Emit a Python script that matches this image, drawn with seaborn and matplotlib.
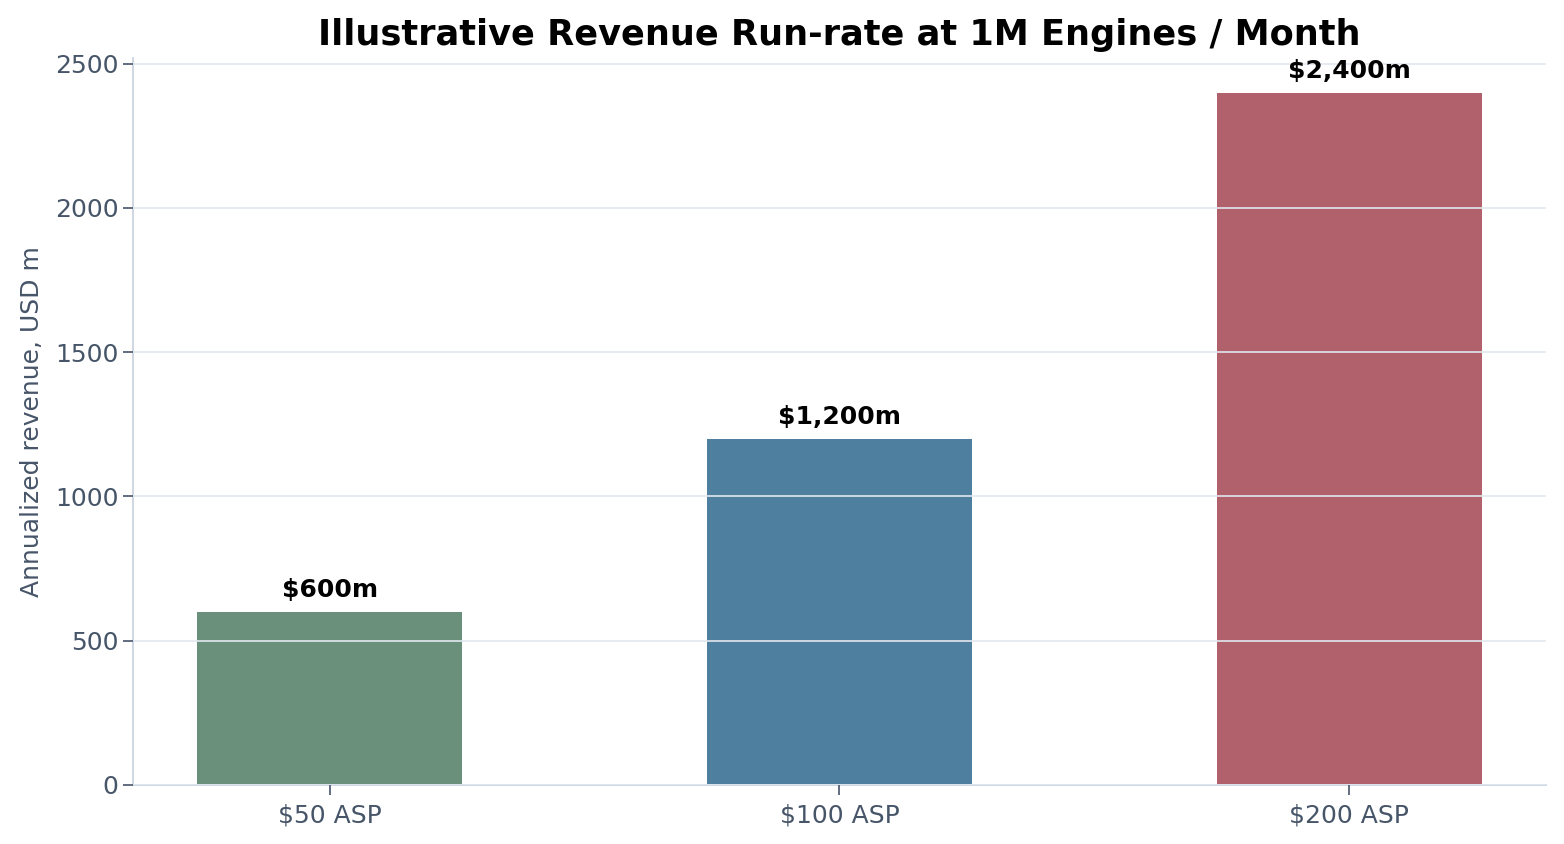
import matplotlib
matplotlib.use("Agg")
import matplotlib.pyplot as plt
import seaborn as sns
import pandas as pd

# Data
scenarios = ["$50 ASP", "$100 ASP", "$200 ASP"]
revenue_m = [600, 1200, 2400]
bar_labels = ["$600m", "$1,200m", "$2,400m"]
bar_colors = ["#6a8f7b", "#4f7f9e", "#b0616c"]

df = pd.DataFrame({"scenario": scenarios, "revenue": revenue_m})

text_color = "#475569"
spine_color = "#cbd5e1"
grid_color = "#e2e8f0"

fig = plt.figure(figsize=(15.64, 8.44), dpi=100)
ax = fig.add_axes([0.085, 0.07, 0.9035, 0.8613])

sns.barplot(data=df, x="scenario", y="revenue", hue="scenario",
            palette=bar_colors, width=0.52, legend=False, ax=ax,
            saturation=1)

# value labels on top of bars
for cont, lab in zip(ax.containers, bar_labels):
    ax.bar_label(cont, labels=[lab], padding=7, fontsize=18,
                 fontweight="bold", color="black")

ax.set_xlim(-0.386, 2.386)
ax.set_ylim(0, 2520)

ax.set_title("Illustrative Revenue Run-rate at 1M Engines / Month",
             fontsize=25.3, fontweight="bold", pad=9)
ax.set_xlabel("")
ax.set_ylabel("Annualized revenue, USD m", fontsize=18, color=text_color,
              labelpad=8)

ax.grid(axis="y", color=grid_color, linewidth=1.2)
ax.set_axisbelow(False)

for s in ["top", "right"]:
    ax.spines[s].set_visible(False)
for s in ["left", "bottom"]:
    ax.spines[s].set_color(spine_color)
    ax.spines[s].set_linewidth(1.3)

ax.tick_params(axis="both", labelsize=18, labelcolor=text_color,
               color=text_color, length=7, width=1.2)
ax.tick_params(axis="x", pad=6.5)

fig.savefig("out.png", dpi=100)
